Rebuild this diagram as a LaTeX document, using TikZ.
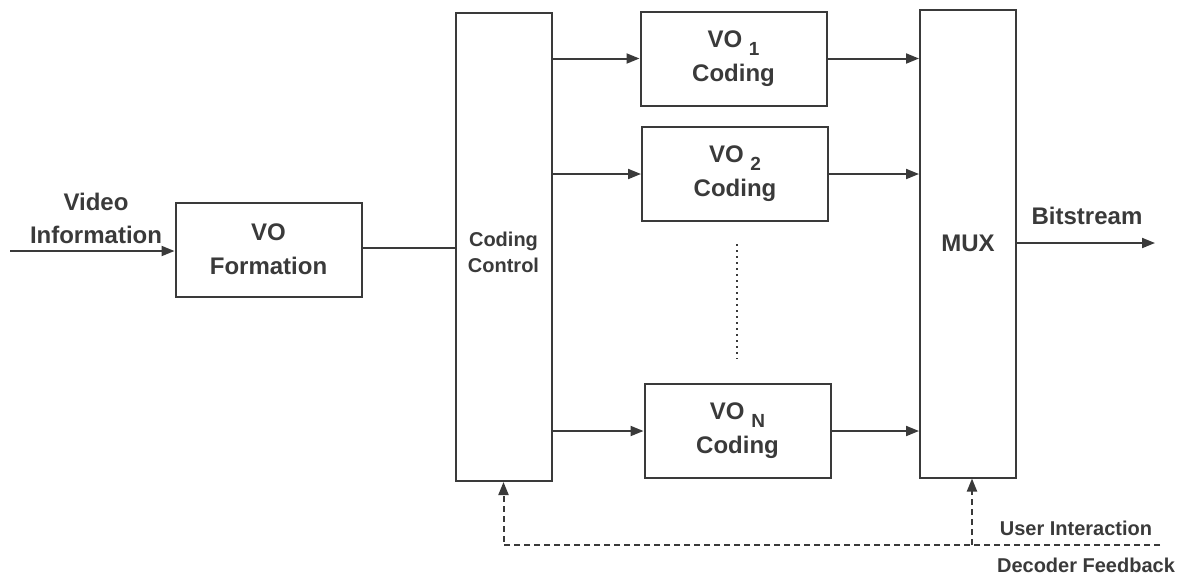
\documentclass[tikz,border=0pt]{standalone}
\usepackage{fontspec}
\setmainfont{Liberation Sans}
\usepackage{tikz}
\usetikzlibrary{positioning,shapes,arrows.meta,calc}
\definecolor{inkgray}{HTML}{3A3A3A}
% lowered index after VO
\newcommand{\voidx}[1]{\raisebox{-4pt}{\fontsize{9.5}{11}\selectfont #1}}

\begin{document}
\begin{tikzpicture}[x=0.5pt, y=-0.5pt, font=\bfseries]
\tikzset{
    block/.style={rectangle, draw=inkgray, line width=1pt, text=inkgray, align=center, minimum width=93pt, minimum height=47pt, font=\fontsize{12}{17}\selectfont\bfseries},
    tallblock/.style={rectangle, draw=inkgray, line width=1pt, text=inkgray, align=center, minimum width=48pt, minimum height=234pt},
    label/.style={text=inkgray, align=center, inner sep=0pt},
    arrow/.style={-{Triangle[length=6.5pt, width=5pt]}, draw=inkgray, line width=1pt},
    link/.style={draw=inkgray, line width=1pt},
    feedback/.style={-{Triangle[length=6.5pt, width=5pt]}, draw=inkgray, line width=1pt, dash pattern=on 3pt off 2pt}
}
\useasboundingbox (0,0) rectangle (1180,580);

% main blocks
\node[block] (form) at (268.5,249.5) {VO\\Formation};
\node[tallblock] (ctrl) at (503.5,247) {};
\node[label, font=\fontsize{10}{13}\selectfont\bfseries] (ctrltext) at (503.5,252) {Coding\\Control};
\node[block] (vo1) at (733.5,58.5) {VO \voidx{1}\\Coding};
\node[block] (vo2) at (735,174) {VO \voidx{2}\\Coding};
\node[block] (voN) at (737.5,431) {VO \voidx{N}\\Coding};
\node[tallblock, font=\fontsize{12}{15}\selectfont\bfseries] (mux) at (968,243.5) {MUX};

% free ends
\coordinate (vin) at (10,251);
\coordinate (bout) at (1155,243);
\coordinate (fbend) at (1160,545);

% texts
\node[label, font=\fontsize{12}{16.5}\selectfont\bfseries] (vinfo) at (96,218) {Video\\Information};
\node[label, font=\fontsize{12}{15}\selectfont\bfseries] (bits) at (1087,216) {Bitstream};
\node[label, font=\fontsize{10}{12}\selectfont\bfseries] (user) at (1076,528) {User Interaction};
\node[label, font=\fontsize{10}{12}\selectfont\bfseries] (dec) at (1086,565) {Decoder Feedback};

% connections
\draw[arrow] (vin) -- (vin -| form.west);
\draw[link] (form.east |- 0,248) -- (ctrl.west |- 0,248);
\draw[arrow] (ctrl.east |- vo1.west) -- (vo1.west);
\draw[arrow] (ctrl.east |- vo2.west) -- (vo2.west);
\draw[arrow] (ctrl.east |- voN.west) -- (voN.west);
\draw[arrow] (vo1.east) -- (vo1.east -| mux.west);
\draw[arrow] (vo2.east) -- (vo2.east -| mux.west);
\draw[arrow] (voN.east) -- (voN.east -| mux.west);
\draw[arrow] (mux.east |- bout) -- (bout);
\draw[link, line width=0.8pt, dash pattern=on 1pt off 2pt] ([yshift=-11pt]vo2.south -| 737,0) -- ([yshift=12pt]voN.north -| 737,0);

% feedback paths
\draw[feedback] (fbend) -| (ctrl.south);
\draw[feedback] ([xshift=2pt]mux.south |- fbend) -- ([xshift=2pt]mux.south);
\end{tikzpicture}
\end{document}
